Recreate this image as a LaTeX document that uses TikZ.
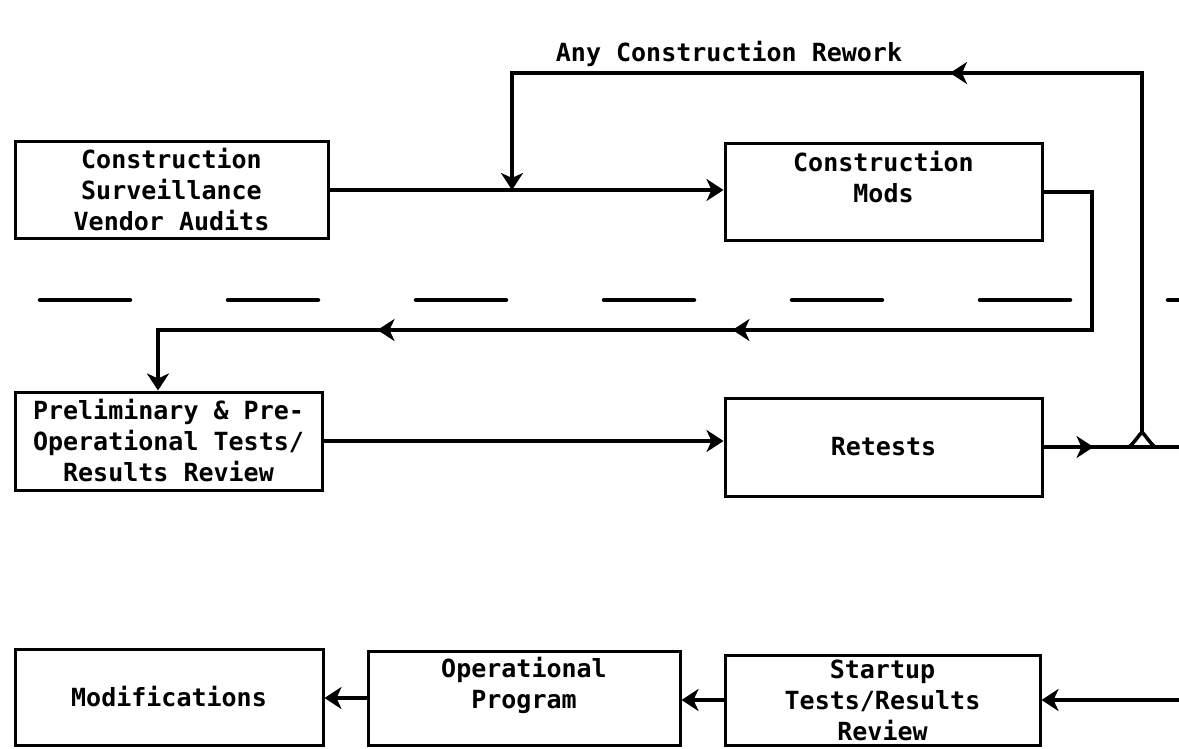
\documentclass[tikz,border=0pt]{standalone}
\usepackage{fontspec}
\newfontfamily\tw{DejaVu Sans Mono}
\usetikzlibrary{arrows.meta,decorations.markings,calc}
\begin{document}
\begin{tikzpicture}[x=1pt,y=-1pt,
  tipstyle/.tip={Stealth[length=17pt,width=22pt,inset=5pt]},
  box/.style={draw, line width=3pt, inner sep=0pt, align=center,
    font=\tw\bfseries\fontsize{25}{31}\selectfont},
  lbl/.style={inner sep=0pt, font=\tw\bfseries\fontsize{25}{31}\selectfont},
  link/.style={line width=3.5pt},
  arr/.style={link, -{tipstyle}},
  midarr/.style={postaction={decorate}, decoration={markings,
    mark=at position #1 with {\arrow{tipstyle}}}},
  twoarr/.style 2 args={postaction={decorate}, decoration={markings,
    mark=at position #1 with {\arrow{tipstyle}},
    mark=at position #2 with {\arrow{tipstyle}}}},
  divider/.style={line width=4.5pt, line cap=round, dash pattern=on 90pt off 98pt}
]
\useasboundingbox[fill=white] (0,0) rectangle (1179,749);

% boxes
\node[box, minimum width=313pt, minimum height=96pt] (A) at (171.5,190)
  {Construction\\Surveillance\\Vendor Audits};
\node[box, minimum width=317pt, minimum height=96pt] (B) at (883.5,192)
  {Construction\\Mods\\\phantom{X}};
\node[box, minimum width=307pt, minimum height=98pt] (C) at (168.5,441)
  {Preliminary \& Pre-\\Operational Tests/\\Results Review};
\node[box, minimum width=317pt, minimum height=98pt] (D) at (883.5,447)
  {Retests};
\node[box, minimum width=308pt, minimum height=96pt] (E) at (169,697)
  {Modifications};
\node[box, minimum width=312pt, minimum height=94pt] (F) at (524,698)
  {Operational\\Program\\\phantom{X}};
\node[box, minimum width=315pt, minimum height=90pt] (G) at (882.5,700)
  {Startup\\Tests/Results\\Review};

\node[lbl, anchor=base] (rework) at (729,62) {Any Construction Rework};

% dashed divider
\coordinate (dl) at (40,300);
\coordinate (dr) at (1179,300);
\draw[divider] (dl) -- (dr);

% coordinates
\coordinate (M) at (512,190);
\coordinate (TR) at (1142,73);
\coordinate (J) at (1142,447);
\coordinate (Jtop) at (1142,432);
\coordinate (P1) at (1092,330);
\coordinate (P2) at (158,330);
\coordinate (Rout) at (1179,447);
\coordinate (Gin) at (1179,700);

% A -> B
\draw[arr] (A.east) -- (A.east -| B.west);
% rework loop
\draw[link, midarr=551pt, -{tipstyle}] (Jtop) -- (TR) -| (M);
% B -> C
\draw[link, twoarr={546pt}{901pt}, -{tipstyle}] (B.east) -| (P1) -- (P2) -- (P2 |- C.north);
% C -> D
\draw[arr] (C.east) -- (C.east -| D.west);
% D -> right
\draw[link, midarr=50pt] (D.east) -- (Rout);
% jumper
\draw[link] ($(J)+(-13,0)$) .. controls ($(J)+(-8,-4)$) and ($(J)+(-3,-12)$) .. (Jtop)
  .. controls ($(J)+(3,-12)$) and ($(J)+(8,-4)$) .. ($(J)+(13,0)$);
% bottom row
\draw[arr] (Gin) -- (G.east);
\draw[arr] (G.west) -- (F.east |- G.west);
\draw[arr] (F.west) -- (E.east |- F.west);
\end{tikzpicture}
\end{document}
